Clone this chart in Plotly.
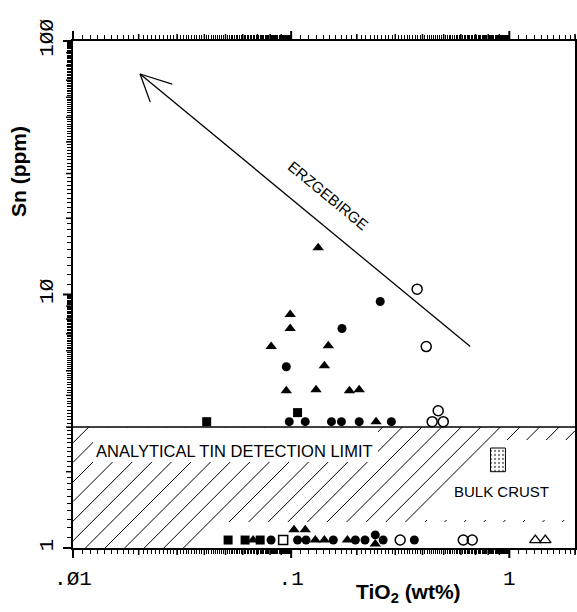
import numpy as np
import plotly.graph_objects as go

# ---------------- data ----------------
FC_X = [0.256, 0.171, 0.095, 0.098, 0.116, 0.153, 0.170, 0.205, 0.288,
        0.0809, 0.107, 0.117, 0.156, 0.197, 0.218, 0.243, 0.264, 0.367]
FC_Y = [9.38, 7.34, 5.19, 3.15, 3.15, 3.15, 3.15, 3.15, 3.15,
        1.075, 1.075, 1.075, 1.075, 1.075, 1.075, 1.126, 1.075, 1.075]

FT_X = [0.133, 0.099, 0.099, 0.081, 0.148, 0.142, 0.095, 0.130, 0.185, 0.205, 0.245,
        0.0669, 0.103, 0.116, 0.129, 0.142, 0.181, 0.243]
FT_Y = [15.3, 8.34, 7.34, 6.23, 6.28, 5.24, 4.17, 4.21, 4.17, 4.21, 3.15,
        1.075, 1.18, 1.18, 1.075, 1.075, 1.075, 1.037]

FS_X = [0.107, 0.041, 0.0514, 0.0615, 0.0721]
FS_Y = [3.42, 3.15, 1.075, 1.075, 1.075]

OS_X = [0.0919]
OS_Y = [1.075]

OC_X = [0.378, 0.416, 0.472, 0.443, 0.498, 0.316, 0.615, 0.676]
OC_Y = [10.5, 6.23, 3.48, 3.15, 3.15, 1.075, 1.075, 1.075]

OT_X = [1.316, 1.462]
OT_Y = [1.075, 1.075]

DETECTION_LIMIT = 3.0
BULK_X = [0.82, 0.96]
BULK_Y = [2.0, 2.48]

ARROW_HEAD_X = [0.0285, 0.0203, 0.0226]
ARROW_HEAD_Y = [67.6, 74.1, 57.4]
ARROW_LINE_X = [0.0203, 0.662]
ARROW_LINE_Y = [74.1, 6.23]

X_RANGE = [0.01, 2.0]
Y_RANGE = [1.0, 100.0]
X_TICKS = [0.01, 0.1, 1]
X_TICK_TEXT = [".Ø1", ".1", "1"]
Y_TICKS = [1, 10, 100]
Y_TICK_TEXT = ["1", "1Ø", "1ØØ"]

# ---------------- layout geometry ----------------
W, H = 577, 612
ML, MR, MT, MB = 73, 2, 41, 64
PW, PH = W - ML - MR, H - MT - MB
BOT = H - MB
xr = [np.log10(X_RANGE[0]), np.log10(X_RANGE[1])]
yr = [np.log10(Y_RANGE[0]), np.log10(Y_RANGE[1])]


def pp(px, py):
    return (px - ML) / PW, (BOT - py) / PH


def xpaper(v):
    return (np.log10(v) - xr[0]) / (xr[1] - xr[0])


def ypaper(v):
    return (np.log10(v) - yr[0]) / (yr[1] - yr[0])


y_det = BOT - ypaper(DETECTION_LIMIT) * PH


def all_ticks():
    out = []
    for dec in [0.01, 0.1, 1, 10]:
        for i in range(10, 100):
            out.append(round(i / 10 * dec, 6))
    out.append(100.0)
    return out


def mid_ticks():
    out = []
    for dec in [0.01, 0.1, 1, 10]:
        for m in range(2, 10):
            out.append(round(m * dec, 6))
    return out


def tick_set(rng, major, labels):
    vals = [v for v in all_ticks() if rng[0] <= v <= rng[1] * 1.0001]
    lab = {round(v, 6): t for v, t in zip(major, labels)}
    text = [lab.get(round(v, 6), "") for v in vals]
    return vals, text


xvals, xtext = tick_set(X_RANGE, X_TICKS, X_TICK_TEXT)
yvals, ytext = tick_set(Y_RANGE, Y_TICKS, Y_TICK_TEXT)
xmid = [v for v in mid_ticks() if X_RANGE[0] < v <= X_RANGE[1]]
ymid = [v for v in mid_ticks() if Y_RANGE[0] < v < Y_RANGE[1]]

shapes = []

# ---------------- hatch + masks (paper coords) ----------------
spacing = 19.6
for k in range(-4, 32):
    xb = 7 + spacing * k
    x0, y0 = xb, BOT
    x1, y1 = xb + (BOT - y_det), y_det
    if x1 < ML:
        continue
    if x0 < ML:
        y0 = BOT - (ML - x0)
        x0 = ML
    if x0 > ML + PW:
        continue
    if x1 > ML + PW:
        y1 = y_det + (x1 - (ML + PW))
        x1 = ML + PW
    a = pp(x0, y0)
    b = pp(x1, y1)
    shapes.append(dict(type="line", xref="paper", yref="paper", x0=a[0], y0=a[1],
                       x1=b[0], y1=b[1], line=dict(color="black", width=1), layer="below"))


def poly(pts):
    s = ""
    for i, (px, py) in enumerate(pts):
        u, v = pp(px, py)
        s += ("M" if i == 0 else "L") + f"{u:.5f},{v:.5f} "
    return s + "Z"


masks = [
    [(93, y_det + 0.5), (378, y_det + 0.5), (378, 462), (93, 462)],
    [(417, 520), (497, 440), (ML + PW, 440), (ML + PW, 520)],
    [(193, BOT), (219, 522), (ML + PW, 522), (ML + PW, BOT)],
]
for m in masks:
    shapes.append(dict(type="path", xref="paper", yref="paper", path=poly(m),
                       fillcolor="white", line=dict(width=0), layer="below"))

# ---------------- longer ticks: intermediate (2..9) and decades, all four sides ----------------
for vals, length, width, axis in [(xmid, 7, 1.5, "x"), (X_TICKS, 10, 2, "x"),
                                  (ymid, 7, 1.5, "y"), (Y_TICKS, 10, 2, "y")]:
    for v in vals:
        if axis == "x":
            u = xpaper(v)
            d = length / PH
            for y0, y1 in [(0, -d), (1, 1 + d)]:
                shapes.append(dict(type="line", xref="paper", yref="paper",
                                   x0=u, x1=u, y0=y0, y1=y1,
                                   line=dict(color="black", width=width), layer="above"))
        else:
            w = ypaper(v)
            d = length / PW
            for x0, x1 in [(0, -d), (1, 1 + d)]:
                shapes.append(dict(type="line", xref="paper", yref="paper",
                                   x0=x0, x1=x1, y0=w, y1=w,
                                   line=dict(color="black", width=width), layer="above"))

fig = go.Figure()

# ---------------- traces ----------------
fig.add_trace(go.Scatter(x=X_RANGE, y=[DETECTION_LIMIT, DETECTION_LIMIT], mode="lines",
                         line=dict(color="black", width=1.4), hoverinfo="skip", showlegend=False))

fig.add_trace(go.Scatter(
    x=[BULK_X[0], BULK_X[1], BULK_X[1], BULK_X[0], BULK_X[0]],
    y=[BULK_Y[0], BULK_Y[0], BULK_Y[1], BULK_Y[1], BULK_Y[0]],
    mode="lines", fill="toself", fillcolor="white",
    fillpattern=dict(shape=".", fgcolor="black", bgcolor="white", size=4, solidity=0.25),
    line=dict(color="black", width=1), hoverinfo="skip", showlegend=False))

fig.add_trace(go.Scatter(x=ARROW_LINE_X, y=ARROW_LINE_Y, mode="lines",
                         line=dict(color="black", width=1.3), hoverinfo="skip", showlegend=False))
fig.add_trace(go.Scatter(x=ARROW_HEAD_X, y=ARROW_HEAD_Y, mode="lines",
                         line=dict(color="black", width=1.3), hoverinfo="skip", showlegend=False))


def mk(x, y, symbol, size, lw=0):
    return go.Scatter(x=x, y=y, mode="markers", cliponaxis=False, showlegend=False,
                      marker=dict(symbol=symbol, size=size, color="black",
                                  line=dict(color="black", width=lw)))


fig.add_trace(mk(FC_X, FC_Y, "circle", 9))
fig.add_trace(mk(FT_X, FT_Y, "triangle-up", 10))
fig.add_trace(mk(FS_X, FS_Y, "square", 9))
fig.add_trace(mk(OS_X, OS_Y, "square-open", 9, 1.5))
fig.add_trace(mk(OC_X, OC_Y, "circle-open", 10, 1.5))
fig.add_trace(mk(OT_X, OT_Y, "triangle-up-open", 10, 1.3))

tickfont = dict(family="Liberation Mono", size=21, color="black")

fig.update_layout(
    width=W, height=H,
    margin=dict(l=ML, r=MR, t=MT, b=MB, pad=0, autoexpand=False),
    paper_bgcolor="white", plot_bgcolor="white",
    shapes=shapes,
    xaxis=dict(type="log", range=xr, showgrid=False, zeroline=False, automargin=False,
               showline=True, linecolor="black", linewidth=2, mirror="ticks",
               ticks="outside", ticklen=4, tickwidth=1.1, tickcolor="black",
               ticklabelstandoff=6,
               tickmode="array", tickvals=xvals, ticktext=xtext, tickfont=tickfont),
    yaxis=dict(type="log", range=yr, showgrid=False, zeroline=False, automargin=False,
               showline=True, linecolor="black", linewidth=2, mirror="ticks",
               ticks="outside", ticklen=4, tickwidth=1.1, tickcolor="black",
               ticklabelstandoff=6,
               tickmode="array", tickvals=yvals, ticktext=ytext, tickfont=tickfont,
               tickangle=-90),
    annotations=[
        dict(x=-1.262, y=0.383, xref="x", yref="y", text="ANALYTICAL TIN DETECTION LIMIT",
             showarrow=False, font=dict(family="Liberation Sans", size=16.5, color="black")),
        dict(x=-0.035, y=0.221, xref="x", yref="y", text="BULK CRUST",
             showarrow=False, font=dict(family="Liberation Sans", size=15, color="black")),
        dict(x=-0.83, y=1.39, xref="x", yref="y", text="ERZGEBIRGE", textangle=39.5,
             showarrow=False, font=dict(family="Liberation Sans", size=15, color="black")),
        dict(x=(408 - ML) / PW, y=(BOT - 593) / PH, xref="paper", yref="paper",
             xanchor="center", yanchor="middle",
             text="<b>TiO<sub>2</sub> (wt%)</b>", showarrow=False,
             font=dict(family="Liberation Sans", size=21, color="black")),
        dict(x=(18 - ML) / PW, y=(BOT - 172) / PH, xref="paper", yref="paper",
             xanchor="center", yanchor="middle",
             text="<b>Sn (ppm)</b>", showarrow=False, textangle=-90,
             font=dict(family="Liberation Sans", size=21, color="black")),
    ],
)

fig.write_html("out.html")
